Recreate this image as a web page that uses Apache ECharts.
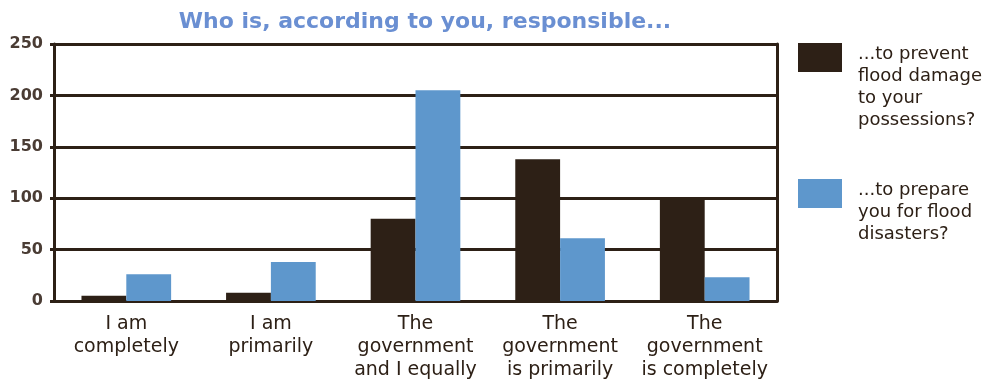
<!DOCTYPE html>
<html>
<head>
<meta charset="utf-8">
<script src="https://cdn.jsdelivr.net/npm/echarts@6/dist/echarts.min.js"></script>
<style>
  html, body { margin: 0; padding: 0; background: #fff; }
  #chart { width: 993px; height: 388px; }
</style>
</head>
<body>
<div id="chart"></div>
<script>
// categories and values
var categories = ['I am\ncompletely', 'I am\nprimarily', 'The\ngovernment\nand I equally', 'The\ngovernment\nis primarily', 'The\ngovernment\nis completely'];
var preventDamage = [5, 8, 80, 138, 99];
var prepareDisasters = [26, 38, 205, 61, 23];
var seriesNames = ['...to prevent\nflood damage\nto your\npossessions?', '...to prepare\nyou for flood\ndisasters?'];

var dark = '#2d2016';
var blue = '#5e97cc';
var font = 'DejaVu Sans';

var chart = echarts.init(document.getElementById('chart'));

// legend swatch sits at the top of a tall item so the text block starts level with it
function legendIcon(h) {
  return 'path://M0,0h44v29h-44z M0,' + h + 'L0,' + h;
}

var option = {
  animation: false,
  title: {
    text: 'Who is, according to you, responsible...',
    left: 420,
    textAlign: 'center',
    top: 6,
    textStyle: { fontFamily: font, fontSize: 22, fontWeight: 'bold', color: '#6a8fd2' }
  },
  legend: [
    {
      data: [seriesNames[0]],
      orient: 'vertical',
      left: 798,
      top: 43,
      padding: 0,
      itemWidth: 44,
      itemHeight: 88,
      icon: legendIcon(88),
      textStyle: { fontFamily: font, fontSize: 18, lineHeight: 22, color: dark, padding: [0, 0, 0, 11] }
    },
    {
      data: [seriesNames[1]],
      orient: 'vertical',
      left: 798,
      top: 179,
      padding: 0,
      itemWidth: 44,
      itemHeight: 66,
      icon: legendIcon(66),
      textStyle: { fontFamily: font, fontSize: 18, lineHeight: 22, color: dark, padding: [0, 0, 0, 11] }
    }
  ],
  grid: { left: 54, right: 216, top: 44, bottom: 87 },
  xAxis: {
    type: 'category',
    data: categories,
    axisLine: { show: true, lineStyle: { color: dark, width: 3 } },
    axisTick: { show: false },
    axisLabel: { fontFamily: font, fontSize: 19, lineHeight: 23, color: dark, margin: 12, interval: 0 }
  },
  yAxis: [
    {
      type: 'value',
      min: 0,
      max: 250,
      interval: 50,
      axisLine: { show: true, lineStyle: { color: dark, width: 3 } },
      axisTick: { show: true, length: 4, lineStyle: { color: dark, width: 3 } },
      splitLine: { lineStyle: { color: dark, width: 3 } },
      axisLabel: { fontFamily: font, fontSize: 16, fontWeight: 'bold', color: '#4a3c34', margin: 11 }
    },
    {
      type: 'value',
      min: 0,
      max: 250,
      interval: 50,
      position: 'right',
      axisLine: { show: true, lineStyle: { color: dark, width: 3 } },
      axisTick: { show: false },
      splitLine: { show: false },
      axisLabel: { show: false }
    }
  ],
  series: [
    {
      name: seriesNames[0],
      type: 'bar',
      data: preventDamage,
      barWidth: '31%',
      barGap: '0%',
      itemStyle: { color: dark }
    },
    {
      name: seriesNames[1],
      type: 'bar',
      data: prepareDisasters,
      barWidth: '31%',
      itemStyle: { color: blue }
    }
  ]
};

chart.setOption(option);
</script>
</body>
</html>
